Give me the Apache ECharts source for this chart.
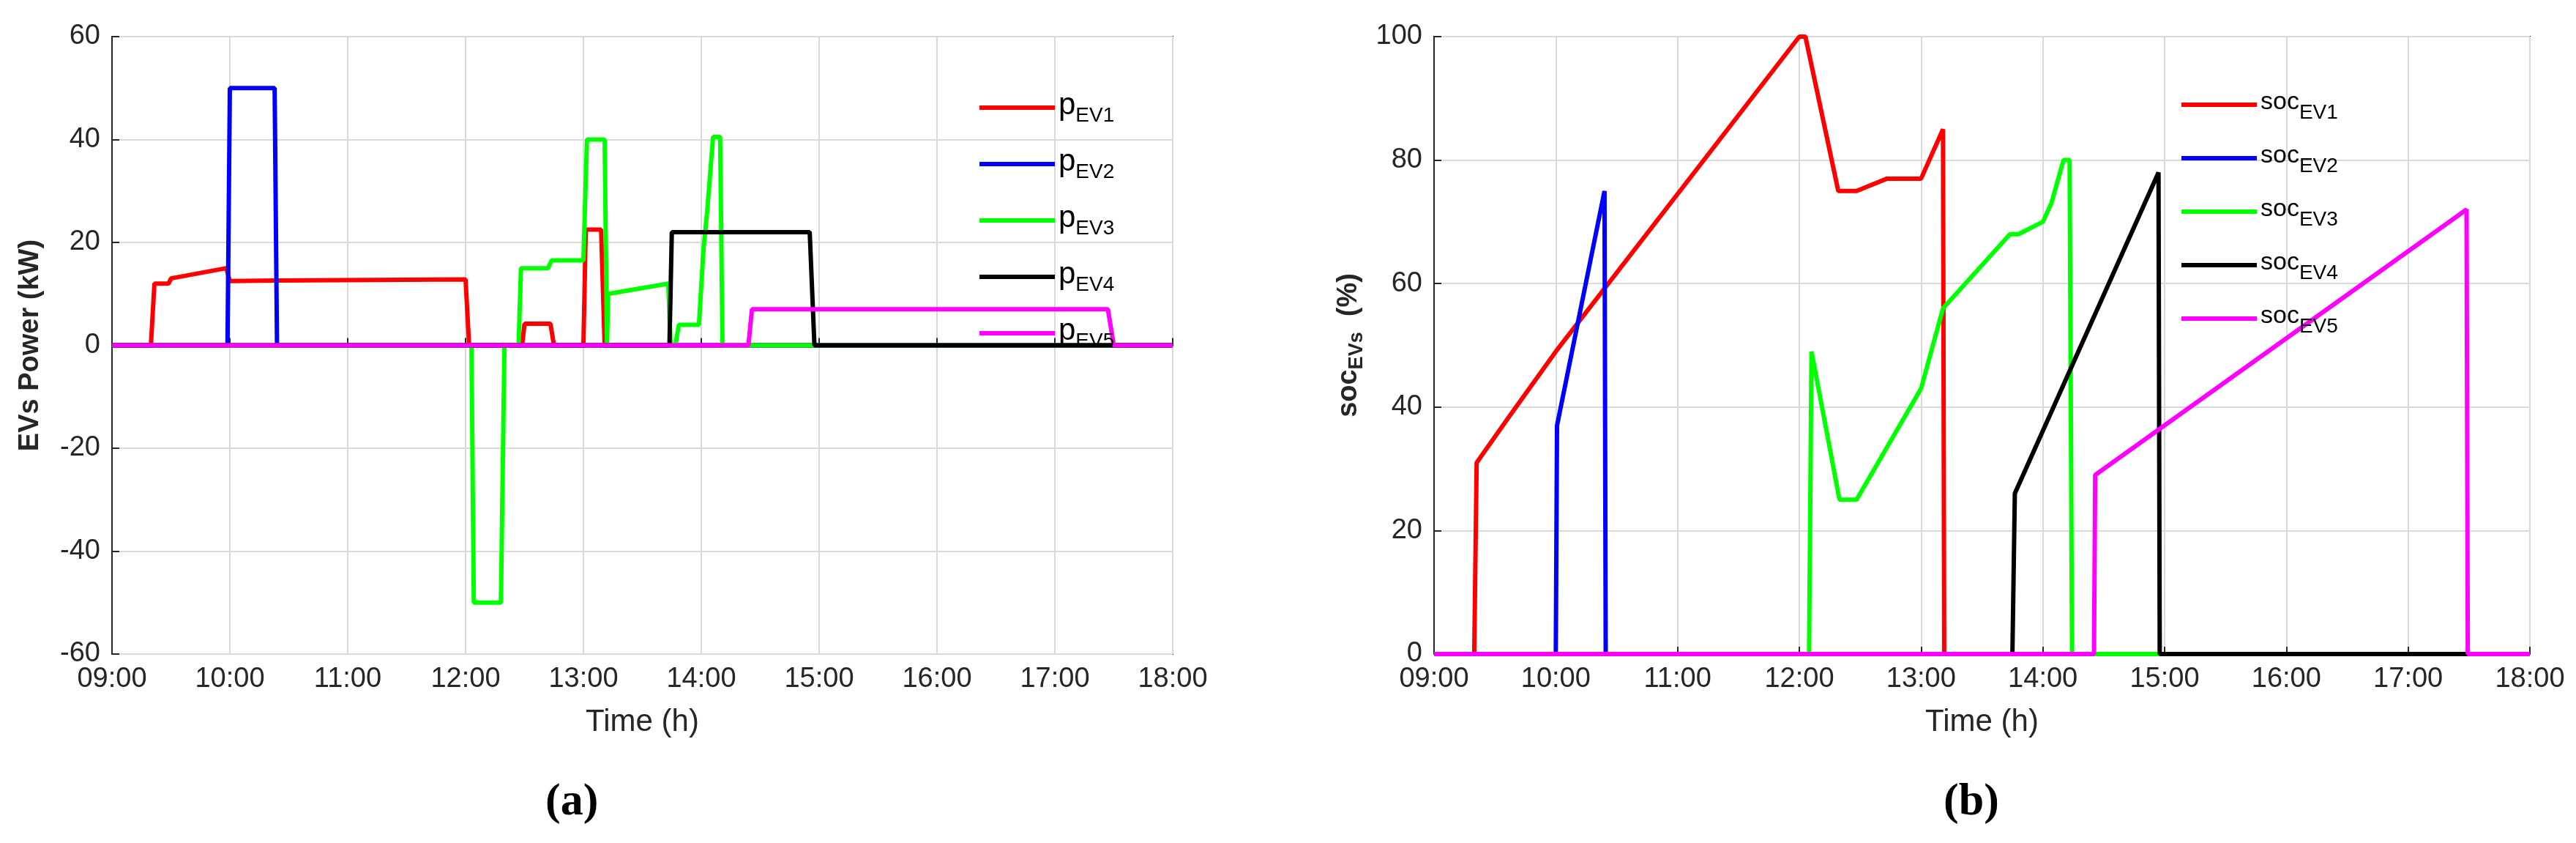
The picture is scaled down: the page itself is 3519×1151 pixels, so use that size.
<!DOCTYPE html>
<html>
<head>
<meta charset="utf-8">
<title>EVs</title>
<script src="https://cdn.jsdelivr.net/npm/echarts@6/dist/echarts.min.js"></script>
<style>body{margin:0;background:#fff}#main{width:3519px;height:1151px}</style>
</head>
<body>
<div id="main"></div>
<script>
// (hour, value) pairs
var pEV1 = [[9,0],[9.33,0],[9.36,12],[9.48,12],[9.5,13],[9.97,15],[10.0,12.5],[10.4,12.6],[12.0,12.8],[12.03,0],[12.48,0],[12.5,4.2],[12.72,4.2],[12.75,0],[13.0,0],[13.02,22.5],[13.15,22.5],[13.18,0],[18,0]];
var pEV2 = [[9,0],[9.98,0],[10.0,50],[10.38,50],[10.4,0],[18,0]];
var pEV3 = [[9,0],[12.05,0],[12.07,-50],[12.3,-50],[12.33,0],[12.45,0],[12.47,15],[12.7,15],[12.73,16.5],[13.0,16.5],[13.03,40],[13.18,40],[13.2,0],[13.21,10],[13.72,12],[13.74,0],[13.78,0],[13.81,4],[13.98,4],[14.02,19],[14.05,26],[14.1,40.5],[14.16,40.5],[14.18,0],[18,0]];
var pEV4 = [[9,0],[13.73,0],[13.75,22],[14.92,22],[14.96,0],[18,0]];
var pEV5 = [[9,0],[14.4,0],[14.43,7],[17.45,7],[17.5,0],[18,0]];

var socEV1 = [[9,0],[9.33,0],[9.35,31],[9.6,38],[10.0,49],[12.0,100],[12.05,100],[12.32,75],[12.47,75],[12.72,77],[13.0,77],[13.18,85],[13.19,0],[18,0]];
var socEV2 = [[9,0],[10.0,0],[10.01,37],[10.4,75],[10.41,0],[18,0]];
var socEV3 = [[9,0],[12.08,0],[12.1,49],[12.33,25],[12.47,25],[13.0,43],[13.18,56],[13.73,68],[13.8,68],[14.0,70],[14.07,73],[14.17,80],[14.22,80],[14.24,0],[18,0]];
var socEV4 = [[9,0],[13.75,0],[13.77,26],[14.95,78],[14.96,0],[18,0]];
var socEV5 = [[9,0],[14.42,0],[14.43,29],[17.48,72],[17.49,0],[18,0]];

var colors = ['#ff0000', '#0000ff', '#00ff00', '#000000', '#ff00ff'];
var evNames = ['EV1', 'EV2', 'EV3', 'EV4', 'EV5'];

var chart = echarts.init(document.getElementById('main'));
var font = 'Liberation Sans Narrow, Liberation Sans, Arial';

function xAx(gi) {
    return {
        gridIndex: gi, type: 'value', min: 9, max: 18, interval: 1,
        name: 'Time (h)', nameLocation: 'middle', nameGap: 72,
        nameTextStyle: {fontSize: 42, color: '#262626', fontFamily: font},
        axisLine: {lineStyle: {color: '#262626', width: 2}},
        axisTick: {inside: true, length: 10, lineStyle: {color: '#262626', width: 2}},
        axisLabel: {fontSize: 38, color: '#262626', margin: 16, fontFamily: font,
            formatter: function (v) { return (v < 10 ? '0' : '') + v + ':00'; }},
        splitLine: {show: true, lineStyle: {color: '#d9d9d9', width: 2}}
    };
}
function yAx(gi, min, max, name) {
    return {
        gridIndex: gi, type: 'value', min: min, max: max, interval: 20,
        name: name, nameLocation: 'middle', nameGap: 92, nameRotate: 90,
        nameTextStyle: {fontSize: 38, color: '#262626', fontFamily: 'Liberation Sans', fontWeight: 'bold',
            rich: {a: {fontSize: 38, fontFamily: 'Liberation Sans', color: '#262626'},
                   b: {fontSize: 27, fontFamily: 'Liberation Sans', color: '#262626', padding: [22, 0, 0, 0]}}},
        axisLine: {show: true, lineStyle: {color: '#262626', width: 2}},
        axisTick: {inside: true, length: 10, lineStyle: {color: '#262626', width: 2}},
        axisLabel: {fontSize: 38, color: '#262626', margin: 16, fontFamily: font},
        splitLine: {show: true, lineStyle: {color: '#d9d9d9', width: 2}}
    };
}
function mkSeries(list, gi, prefix) {
    return list.map(function (d, i) {
        return {
            name: prefix + evNames[i], type: 'line', xAxisIndex: gi, yAxisIndex: gi,
            data: d, showSymbol: false, symbol: 'none',
            lineStyle: {color: colors[i], width: 6}, itemStyle: {color: colors[i]},
            animation: false
        };
    });
}
function legend(left, top, prefix, big) {
    return {
        orient: 'vertical', left: left, top: top, itemWidth: 103, itemHeight: 6, itemGap: 28,
        icon: 'rect', selectedMode: false,
        data: evNames.map(function (n) { return prefix + n; }),
        formatter: function (n) { return '{a|' + prefix + '}{b|' + n.slice(prefix.length) + '}'; },
        textStyle: {rich: {
            a: {fontSize: big, color: '#000', fontFamily: font, padding: [0, 0, 6, 0]},
            b: {fontSize: 28, color: '#000', fontFamily: font, padding: [22, 0, 0, 0]}}}
    };
}

chart.setOption({
    backgroundColor: '#fff',
    animation: false,
    grid: [
        {left: 153, right: 3519 - 1602, top: 50, bottom: 1151 - 893, show: true, borderColor: '#262626', borderWidth: 2},
        {left: 1959, right: 3519 - 3456, top: 50, bottom: 1151 - 893, show: true, borderColor: '#262626', borderWidth: 2}
    ],
    xAxis: [xAx(0), xAx(1)],
    yAxis: [yAx(0, -60, 60, 'EVs Power (kW)'), yAx(1, 0, 100, '{a|soc}{b|EVs}{a|  (%)}')],
    legend: [legend(1333, 118, 'p', 42), legend(2975, 118, 'soc', 34)],
    series: mkSeries([pEV1, pEV2, pEV3, pEV4, pEV5], 0, 'p').concat(
            mkSeries([socEV1, socEV2, socEV3, socEV4, socEV5], 1, 'soc')),
    graphic: [
        {type: 'text', left: 745, top: 1065, style: {text: '(a)', font: 'bold 62px "Liberation Serif"', fill: '#000'}},
        {type: 'text', left: 2655, top: 1065, style: {text: '(b)', font: 'bold 62px "Liberation Serif"', fill: '#000'}}
    ]
});
</script>
</body>
</html>
